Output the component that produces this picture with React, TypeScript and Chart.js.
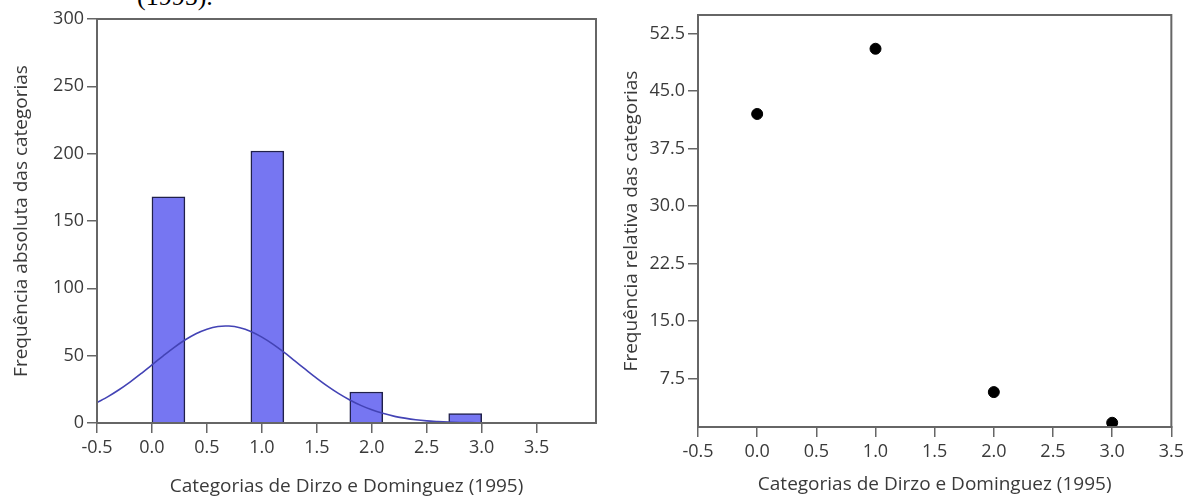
import React, { useEffect, useRef } from "react";
import { Chart, registerables } from "chart.js";
Chart.register(...registerables);

// Histogram bins (width 0.3) of the Dirzo & Dominguez categories
const binCenters = [0.15, 0.45, 0.75, 1.05, 1.35, 1.65, 1.95, 2.25, 2.55, 2.85];
const binCounts = [168, 0, 0, 202, 0, 0, 23, 0, 0, 7];

// Normal curve
const curveX = [
  -0.5, -0.4, -0.3, -0.2, -0.1, 0.0, 0.1, 0.2, 0.3, 0.4, 0.5, 0.6, 0.7, 0.8, 0.9,
  1.0, 1.1, 1.2, 1.3, 1.4, 1.5, 1.6, 1.7, 1.8, 1.9, 2.0, 2.1, 2.2, 2.3, 2.4, 2.5,
  2.6, 2.7, 2.8, 2.9, 3.0, 3.1, 3.2, 3.3, 3.4, 3.5, 3.6, 3.7, 3.8, 3.9, 4.0,
];
const curveY = [
  15.2, 19.6, 24.7, 30.4, 36.6, 43.2, 49.7, 56.0, 61.6, 66.3, 69.7, 71.7, 72.0, 70.8, 68.0,
  63.8, 58.6, 52.6, 46.1, 39.6, 33.2, 27.2, 21.8, 17.1, 13.1, 9.8, 7.2, 5.1, 3.6, 2.4, 1.6,
  1.1, 0.7, 0.4, 0.26, 0.15, 0.09, 0.05, 0.03, 0.01, 0, 0, 0, 0, 0, 0,
];

// Right panel: relative frequency per category
const categories = [0, 1, 2, 3];
const relFreq = [42.0, 50.5, 5.75, 1.75];

const xTicks = [-0.5, 0, 0.5, 1, 1.5, 2, 2.5, 3, 3.5];
const leftYTicks = [0, 50, 100, 150, 200, 250, 300];
const rightYTicks = [7.5, 15, 22.5, 30, 37.5, 45, 52.5];

const xTitle = "Categorias de Dirzo e Dominguez (1995)";
const leftYTitle = "Frequência absoluta das categorias";
const rightYTitle = "Frequência relativa das categorias";

const FONT = "'Open Sans', 'Noto Sans', sans-serif";
const AXIS = "#666666";
const TXT = "#3a3a3a";

const framePlugin = {
  id: "frame",
  afterDatasetsDraw(chart: any) {
    const { ctx, chartArea } = chart;
    const { left, top, right, bottom } = chartArea;
    ctx.save();
    ctx.strokeStyle = AXIS;
    ctx.lineWidth = 2;
    ctx.strokeRect(left, top, right - left, bottom - top);
    ctx.restore();
  },
};

function gridOpts() {
  return {
    drawOnChartArea: false,
    drawTicks: true,
    tickLength: 10,
    color: AXIS,
    lineWidth: 1.5,
    offset: false,
  };
}

export default function App() {
  const leftRef = useRef<HTMLCanvasElement>(null);
  const rightRef = useRef<HTMLCanvasElement>(null);

  useEffect(() => {
    const tickFont = { family: FONT, size: 18 };
    const titleFont = { family: FONT, size: 19 };

    const c1 = new Chart(leftRef.current as HTMLCanvasElement, {
      type: "bar",
      data: {
        datasets: [
          {
            type: "line",
            data: curveX.map((x, i) => ({ x, y: curveY[i] })),
            borderColor: "#4343b5",
            borderWidth: 1.6,
            pointRadius: 0,
            fill: false,
            tension: 0.3,
            order: 0,
          } as any,
          {
            type: "bar",
            data: binCenters.map((x, i) => ({ x, y: binCounts[i] })),
            backgroundColor: "#7676f2",
            borderColor: "#20204a",
            borderWidth: 1.5,
            barPercentage: 1,
            categoryPercentage: 1,
            order: 1,
          } as any,
        ],
      },
      options: {
        responsive: false,
        animation: false,
        layout: { padding: { top: 19, right: 4, left: 0, bottom: 0 } },
        plugins: { legend: { display: false }, tooltip: { enabled: false } },
        scales: {
          x: {
            type: "linear",
            min: -0.5,
            max: 4.04,
            offset: false,
            afterBuildTicks: (s: any) => {
              s.ticks = xTicks.map((v) => ({ value: v }));
            },
            afterFit: (s: any) => {
              s.height = 78;
            },
            ticks: {
              font: tickFont,
              color: TXT,
              padding: 4,
              maxRotation: 0,
              autoSkip: false,
              callback: (v: any) => Number(v).toFixed(1),
            },
            grid: gridOpts(),
            border: { display: true, color: AXIS, width: 2 },
            title: {
              display: true,
              text: xTitle,
              font: titleFont,
              color: TXT,
              padding: { top: 0, bottom: 3 },
            },
          },
          y: {
            type: "linear",
            min: 0,
            max: 300,
            afterBuildTicks: (s: any) => {
              s.ticks = leftYTicks.map((v) => ({ value: v }));
            },
            afterFit: (s: any) => {
              s.width = 97;
            },
            ticks: {
              font: tickFont,
              color: TXT,
              padding: 3,
              callback: (v: any) => String(v),
            },
            grid: gridOpts(),
            border: { display: true, color: AXIS, width: 2 },
            title: {
              display: true,
              text: leftYTitle,
              font: titleFont,
              color: TXT,
              padding: { top: 10, bottom: 0 },
            },
          },
        },
      },
      plugins: [framePlugin],
    });

    const c2 = new Chart(rightRef.current as HTMLCanvasElement, {
      type: "scatter",
      data: {
        datasets: [
          {
            data: categories.map((x, i) => ({ x, y: relFreq[i] })),
            backgroundColor: "#000000",
            borderColor: "#000000",
            pointRadius: 5.5,
            pointHoverRadius: 5.5,
          },
        ],
      },
      options: {
        responsive: false,
        animation: false,
        layout: { padding: { top: 15, right: 15, left: 0, bottom: 0 } },
        plugins: { legend: { display: false }, tooltip: { enabled: false } },
        scales: {
          x: {
            type: "linear",
            min: -0.5,
            max: 3.5,
            afterBuildTicks: (s: any) => {
              s.ticks = xTicks.map((v) => ({ value: v }));
            },
            afterFit: (s: any) => {
              s.height = 74;
            },
            ticks: {
              font: tickFont,
              color: TXT,
              padding: 4,
              maxRotation: 0,
              autoSkip: false,
              callback: (v: any) => Number(v).toFixed(1),
            },
            grid: gridOpts(),
            border: { display: true, color: AXIS, width: 2 },
            title: {
              display: true,
              text: xTitle,
              font: titleFont,
              color: TXT,
              padding: { top: 0, bottom: 5 },
            },
          },
          y: {
            type: "linear",
            min: 1.2,
            max: 54.9,
            afterBuildTicks: (s: any) => {
              s.ticks = rightYTicks.map((v) => ({ value: v }));
            },
            afterFit: (s: any) => {
              s.width = 98;
            },
            ticks: {
              font: tickFont,
              color: TXT,
              padding: 3,
              callback: (v: any) => Number(v).toFixed(1),
            },
            grid: gridOpts(),
            border: { display: true, color: AXIS, width: 2 },
            title: {
              display: true,
              text: rightYTitle,
              font: titleFont,
              color: TXT,
              padding: { top: 20, bottom: 0 },
            },
          },
        },
      },
      plugins: [framePlugin],
    });

    return () => {
      c1.destroy();
      c2.destroy();
    };
  }, []);

  return (
    <div
      style={{
        position: "fixed",
        left: 0,
        top: 0,
        width: 1188,
        height: 501,
        background: "#ffffff",
        overflow: "hidden",
      }}
    >
      <div
        style={{
          position: "absolute",
          left: 137,
          top: -16,
          fontFamily: "'Liberation Serif', serif",
          fontSize: 26,
          lineHeight: "26px",
          whiteSpace: "nowrap",
          color: "#000",
        }}
      >
        (1995).
      </div>
      <canvas
        ref={leftRef}
        width={600}
        height={501}
        style={{ position: "absolute", left: 0, top: 0, width: 600, height: 501 }}
      />
      <canvas
        ref={rightRef}
        width={588}
        height={501}
        style={{ position: "absolute", left: 600, top: 0, width: 588, height: 501 }}
      />
    </div>
  );
}
